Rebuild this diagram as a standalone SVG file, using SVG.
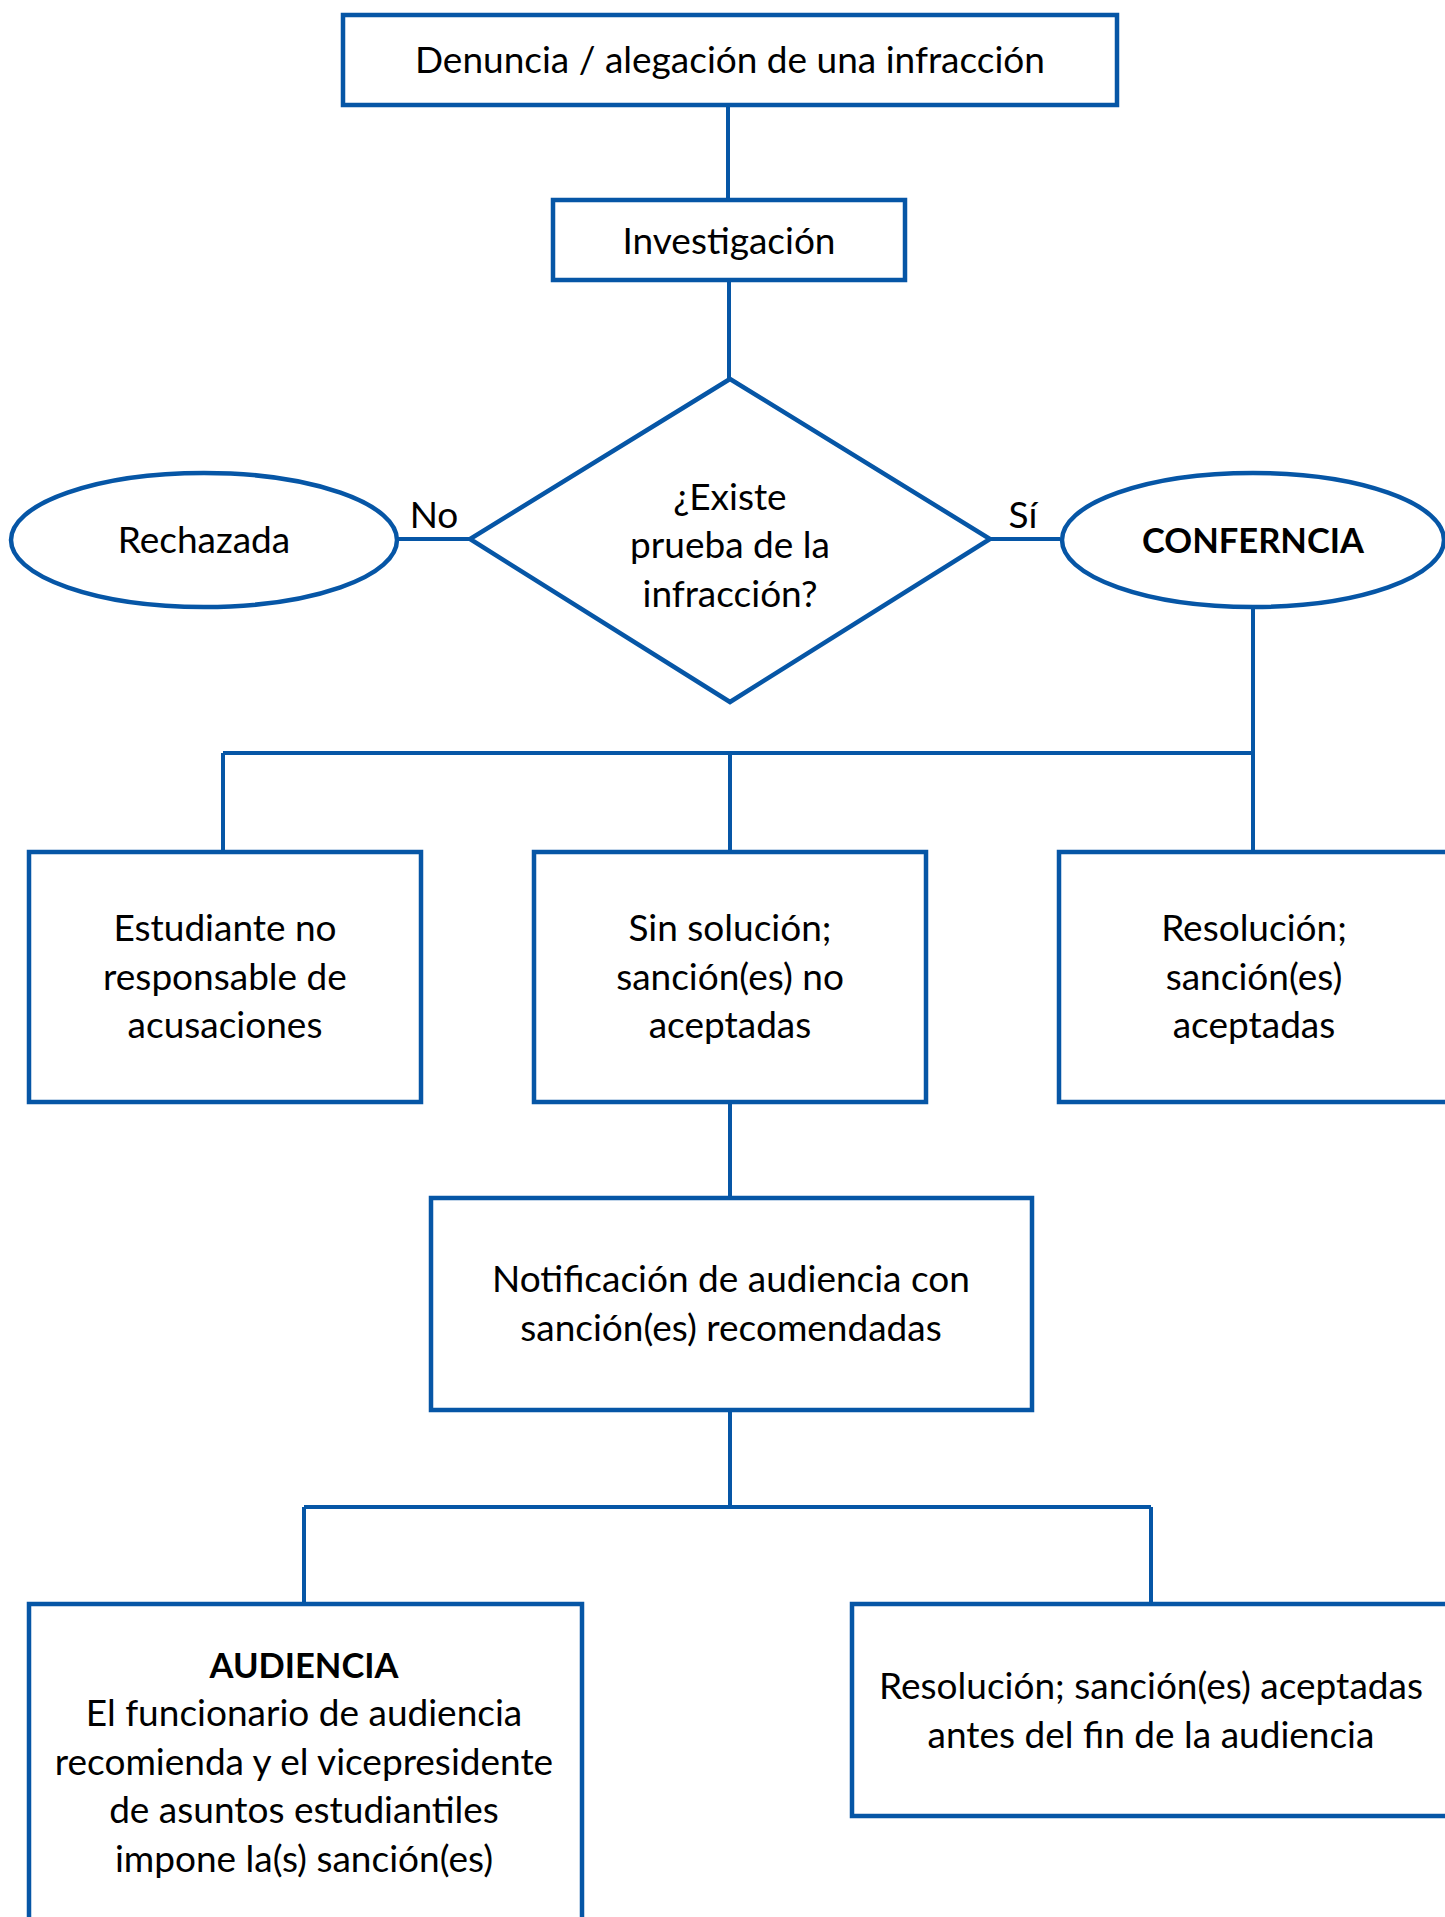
<svg xmlns="http://www.w3.org/2000/svg" width="1445" height="1917" viewBox="0 0 1445 1917">
<style>
.n{fill:#fff;stroke:#0656a6;stroke-width:4.5}
.c{stroke:#0656a6;stroke-width:4;fill:none}
.t{font-family:Lato,"Liberation Sans",sans-serif;font-size:37px;fill:#000;text-anchor:middle}
.b{font-weight:bold;font-size:34.5px}
</style>
<rect width="1445" height="1917" fill="#fff"/>
<g id="connectors">
<path class="c" d="M728 105V199M729 280V379"/>
<path class="c" d="M396 539H470M990 539H1060"/>
<path class="c" d="M1253 607V850M223 753H1253M223 753V850M730 753V850"/>
<path class="c" d="M730 1103V1198M730 1410V1507M304 1507H1151M304 1507V1604M1151 1507V1604"/>
<text class="t" x="434" y="528">No</text>
<text class="t" x="1023" y="528">Sí</text>
</g>
<g id="n1"><rect class="n" x="343" y="15" width="774" height="90"/><text class="t" x="730" y="73">Denuncia / alegación de una infracción</text></g>
<g id="n2"><rect class="n" x="553" y="200" width="352" height="80"/><text class="t" x="729" y="254">Investigación</text></g>
<g id="n3"><polygon class="n" points="730,379 990,539 730,702 470,539"/><text class="t" x="730" y="510">¿Existe</text><text class="t" x="730" y="558">prueba de la</text><text class="t" x="730" y="607">infracción?</text></g>
<g id="n4"><ellipse class="n" cx="204" cy="540" rx="193" ry="67"/><text class="t" x="204" y="553">Rechazada</text></g>
<g id="n5"><ellipse class="n" cx="1253" cy="540" rx="191" ry="67"/><text class="t b" x="1253" y="553">CONFERNCIA</text></g>
<g id="n6"><rect class="n" x="29" y="852" width="392" height="250"/><text class="t" x="225" y="941">Estudiante no</text><text class="t" x="225" y="990">responsable de</text><text class="t" x="225" y="1038">acusaciones</text></g>
<g id="n7"><rect class="n" x="534" y="852" width="392" height="250"/><text class="t" x="730" y="941">Sin solución;</text><text class="t" x="730" y="990">sanción(es) no</text><text class="t" x="730" y="1038">aceptadas</text></g>
<g id="n8"><rect class="n" x="1059" y="852" width="400" height="250"/><text class="t" x="1254" y="941">Resolución;</text><text class="t" x="1254" y="990">sanción(es)</text><text class="t" x="1254" y="1038">aceptadas</text></g>
<g id="n9"><rect class="n" x="431" y="1198" width="601" height="212"/><text class="t" x="731" y="1292">Notificación de audiencia con</text><text class="t" x="731" y="1341">sanción(es) recomendadas</text></g>
<g id="n10"><rect class="n" x="29" y="1604" width="553" height="340"/><text class="t b" x="304" y="1678">AUDIENCIA</text><text class="t" x="304" y="1726">El funcionario de audiencia</text><text class="t" x="304" y="1775">recomienda y el vicepresidente</text><text class="t" x="304" y="1823">de asuntos estudiantiles</text><text class="t" x="304" y="1872">impone la(s) sanción(es)</text></g>
<g id="n11"><rect class="n" x="852" y="1604" width="610" height="212"/><text class="t" x="1151" y="1699">Resolución; sanción(es) aceptadas</text><text class="t" x="1151" y="1748">antes del fin de la audiencia</text></g>
</svg>
